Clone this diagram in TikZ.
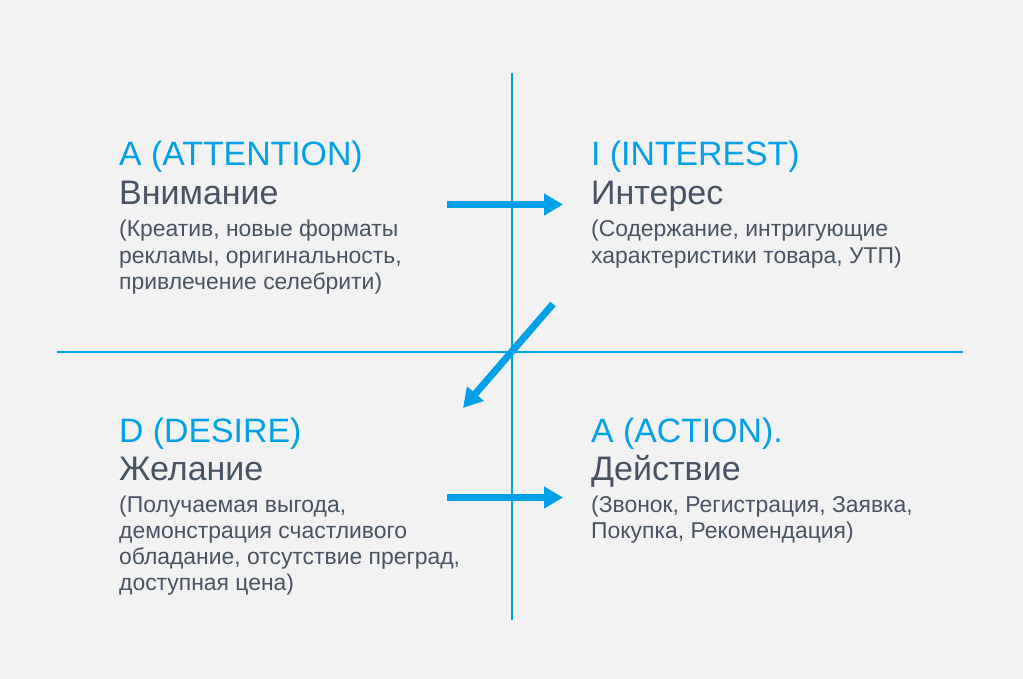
\documentclass[tikz,border=0pt]{standalone}
\usepackage{fontspec}
\setmainfont{Liberation Sans}
\usetikzlibrary{arrows.meta}
\definecolor{bg}{RGB}{242,242,242}
\definecolor{accent}{RGB}{0,160,233}
\definecolor{ink}{RGB}{72,84,100}
\tikzset{
  axis/.style={draw=accent, line width=1.2pt},
  flow/.style={draw=accent, line width=7pt, -{Triangle[length=19pt,width=21pt]}},
  ttl/.style={anchor=base west, inner sep=0pt, text=accent, font=\fontsize{33.8}{38}\selectfont},
  nm/.style={anchor=base west, inner sep=0pt, text=ink, font=\fontsize{34}{38}\selectfont},
  dsc/.style={anchor=base west, inner sep=0pt, text=ink, font=\fontsize{22.9}{26}\selectfont}
}
\begin{document}
\begin{tikzpicture}[x=1pt,y=-1pt]
\fill[bg] (0,0) rectangle (1023,679);
\useasboundingbox (0,0) rectangle (1023,679);
% axes
\coordinate (vt) at (512,73);
\coordinate (vb) at (512,620);
\coordinate (hl) at (57,352);
\coordinate (hr) at (963,352);
\draw[axis] (vt) -- (vb);
\draw[axis] (hl) -- (hr);
% top-left
\node[ttl] (t1) at (119,166) {A (ATTENTION)};
\node[nm]  (n1) at (119,205) {Внимание};
\node[dsc] (d1a) at (119,237) {(Креатив, новые форматы};
\node[dsc] (d1b) at (119,263) {рекламы, оригинальность,};
\node[dsc] (d1c) at (119,289) {привлечение селебрити)};
% top-right
\node[ttl] (t2) at (591,166) {I (INTEREST)};
\node[nm]  (n2) at (591,205) {Интерес};
\node[dsc] (d2a) at (591,237) {(Содержание, интригующие};
\node[dsc] (d2b) at (591,263) {характеристики товара, УТП)};
% bottom-left
\node[ttl] (t3) at (119,442) {D (DESIRE)};
\node[nm]  (n3) at (119,480) {Желание};
\node[dsc] (d3a) at (119,512) {(Получаемая выгода,};
\node[dsc] (d3b) at (119,538) {демонстрация счастливого};
\node[dsc] (d3c) at (119,564) {обладание, отсутствие преград,};
\node[dsc] (d3d) at (119,590) {доступная цена)};
% bottom-right
\node[ttl] (t4) at (591,442) {A (ACTION).};
\node[nm]  (n4) at (591,480) {Действие};
\node[dsc] (d4a) at (591,512) {(Звонок, Регистрация, Заявка,};
\node[dsc] (d4b) at (591,538) {Покупка, Рекомендация)};
% arrows
\coordinate (a1s) at (447,204.5);
\coordinate (a1e) at (563,204.5);
\coordinate (a2s) at (553,304);
\coordinate (a2e) at (463,408);
\coordinate (a3s) at (447,497.5);
\coordinate (a3e) at (563,497.5);
\draw[flow] (a1s) -- (a1e);
\draw[flow] (a2s) -- (a2e);
\draw[flow] (a3s) -- (a3e);
\end{tikzpicture}
\end{document}
